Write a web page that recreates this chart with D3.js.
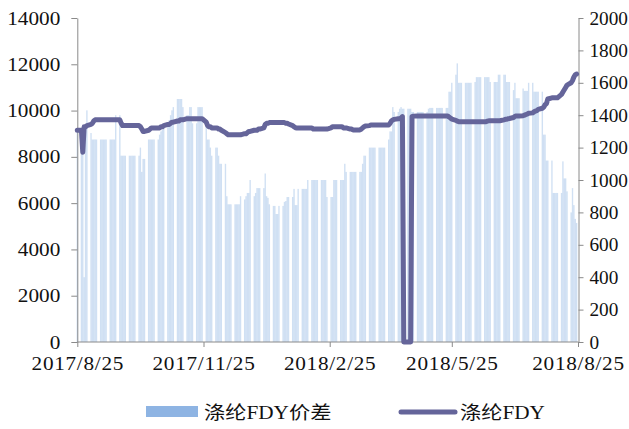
<!DOCTYPE html>
<html>
<head>
<meta charset="utf-8">
<script src="https://cdn.jsdelivr.net/npm/d3@7"></script>
<style>
  html, body { margin: 0; padding: 0; background: #fff; }
  svg { display: block; }
  text { font-family: "Liberation Serif", "Noto Sans CJK SC", serif; fill: #111; }
</style>
</head>
<body>
<svg id="chart" width="629" height="429"></svg>
<script>
// ---- data ---------------------------------------------------------------
const firstDay = "2017-08-25";
const lastDay = "2018-08-25";
const tickDays = ["2017-08-25", "2017-11-25", "2018-02-25", "2018-05-25", "2018-08-25"];
const tickLabels = ["2017/8/25", "2017/11/25", "2018/2/25", "2018/5/25", "2018/8/25"];
const leftTicks = [0, 2000, 4000, 6000, 8000, 10000, 12000, 14000];
const rightTicks = [0, 200, 400, 600, 800, 1000, 1200, 1400, 1600, 1800, 2000];
const seriesNames = ["涤纶FDY价差", "涤纶FDY"];

// spread (right axis), one row per trading week, Mon..Fri
const spreadRows = [
  [1310],                              // Aug 25
  [1310, 1310, 400, 1300, 1430],       // Aug 28
  [1290, 1250, 1250, 1250, 1250],      // Sep 4
  [1250, 1250, 1250, 1250, 1250],      // Sep 11
  [1250, 1250, 1250, 1250, 1400],      // Sep 18
  [1400, 1150, 1150, 1150, 1150],      // Sep 25
  [1150, 1150, 1150, 1150, 1150],      // Oct 2
  [1150, 1200, 1050, 1130, 1130],      // Oct 9
  [1250, 1250, 1250, 1250, 1250],      // Oct 16
  [1250, 1280, 1300, 1310, 1330],      // Oct 23
  [1350, 1370, 1400, 1430, 1450],      // Oct 30
  [1500, 1500, 1500, 1500, 1450],      // Nov 6
  [1400, 1400, 1450, 1450, 1350],      // Nov 13
  [1350, 1450, 1450, 1450, 1450],      // Nov 20
  [1350, 1250, 1250, 1200, 1150],      // Nov 27
  [1200, 1200, 1150, 1100, 1100],      // Dec 4
  [1100, 900, 850, 850, 850],          // Dec 11
  [850, 850, 850, 850, 900],           // Dec 18
  [880, 900, 920, 920, 1000],          // Dec 25
  [900, 920, 950, 950, 950],           // Jan 1
  [950, 1040, 900, 890, 850],          // Jan 8
  [840, 840, 790, 790, 840],           // Jan 15
  [840, 865, 870, 895, 895],           // Jan 22
  [895, 945, 845, 845, 945],           // Jan 29
  [945, 945, 945, 945, 1000],          // Feb 5
  [1000, 1000, 1000, 1000, 1000],      // Feb 12
  [1000, 1000, 1000, 1000, 895],       // Feb 19
  [895, 895, 1000, 1000, 1000],        // Feb 26
  [1000, 1000, 1000, 1100, 1050],      // Mar 5
  [1050, 1050, 1050, 1050, 1050],      // Mar 12
  [1050, 1050, 1100, 1150, 1150],      // Mar 19
  [1200, 1200, 1200, 1200, 1200],      // Mar 26
  [1200, 1200, 1200, 1200, 1200],      // Apr 2
  [1250, 1300, 1300, 1450, 1420],      // Apr 9
  [1420, 1440, 1450, 1440, 1440],      // Apr 16
  [1440, 1440, 1440, 1420, 1420],      // Apr 23
  [1420, 1420, 1420, 1420, 1420],      // Apr 30
  [1420, 1440, 1445, 1445, 1445],      // May 7
  [1445, 1445, 1445, 1445, 1445],      // May 14
  [1445, 1445, 1545, 1545, 1600],      // May 21
  [1650, 1720, 1600, 1600, 1600],      // May 28
  [1600, 1600, 1600, 1600, 1600],      // Jun 4
  [1605, 1635, 1635, 1635, 1635],      // Jun 11
  [1635, 1635, 1635, 1635, 1605],      // Jun 18
  [1605, 1605, 1605, 1650, 1650],      // Jun 25
  [1650, 1650, 1605, 1605, 1605],      // Jul 2
  [1555, 1600, 1505, 1505, 1505],      // Jul 9
  [1565, 1550, 1550, 1550, 1600],      // Jul 16
  [1600, 1545, 1545, 1545, 1545],      // Jul 23
  [1545, 1280, 1280, 1120, 1120],      // Jul 30
  [1120, 920, 920, 920, 920],          // Aug 6
  [920, 1115, 1010, 1010, 930],        // Aug 13
  [800, 950, 845, 760, 735]            // Aug 20
];

// FDY price (left axis), same trading days
const priceRows = [
  [9150],
  [9150, 8200, 9300, 9300, 9350],
  [9400, 9450, 9550, 9600, 9600],
  [9600, 9600, 9600, 9600, 9600],
  [9600, 9600, 9600, 9600, 9600],
  [9600, 9450, 9350, 9350, 9350],
  [9350, 9350, 9350, 9350, 9350],
  [9350, 9300, 9200, 9100, 9100],
  [9150, 9200, 9250, 9250, 9250],
  [9250, 9250, 9300, 9300, 9350],
  [9400, 9400, 9450, 9500, 9500],
  [9550, 9550, 9600, 9600, 9600],
  [9650, 9650, 9650, 9650, 9650],
  [9650, 9650, 9650, 9650, 9650],
  [9500, 9350, 9300, 9300, 9250],
  [9250, 9250, 9200, 9200, 9150],
  [9050, 9000, 8950, 8950, 8950],
  [8950, 8950, 8950, 8950, 8950],
  [9000, 9000, 9050, 9100, 9100],
  [9150, 9150, 9150, 9200, 9200],
  [9250, 9400, 9450, 9450, 9480],
  [9480, 9480, 9480, 9480, 9480],
  [9480, 9480, 9450, 9450, 9420],
  [9350, 9300, 9260, 9250, 9250],
  [9250, 9250, 9250, 9250, 9250],
  [9250, 9200, 9200, 9200, 9200],
  [9200, 9200, 9200, 9200, 9200],
  [9250, 9300, 9300, 9300, 9300],
  [9300, 9300, 9250, 9250, 9250],
  [9200, 9200, 9160, 9160, 9160],
  [9160, 9200, 9250, 9300, 9330],
  [9350, 9380, 9380, 9380, 9380],
  [9380, 9380, 9380, 9380, 9380],
  [9380, 9450, 9550, 9600, 9620],
  [9650, 9650, 9680, 9740, 0],
  [0, 0, 0, 9740, 9760],
  [9770, 9770, 9770, 9770, 9770],
  [9770, 9770, 9770, 9770, 9770],
  [9770, 9770, 9770, 9770, 9770],
  [9770, 9770, 9720, 9680, 9630],
  [9580, 9540, 9520, 9520, 9520],
  [9520, 9520, 9520, 9520, 9520],
  [9520, 9520, 9520, 9520, 9520],
  [9520, 9520, 9540, 9560, 9560],
  [9560, 9560, 9560, 9560, 9560],
  [9600, 9620, 9620, 9650, 9660],
  [9700, 9750, 9770, 9770, 9770],
  [9780, 9800, 9830, 9850, 9880],
  [9900, 9950, 9980, 10000, 10050],
  [10100, 10150, 10250, 10300, 10500],
  [10550, 10550, 10550, 10550, 10550],
  [10700, 10800, 10900, 11000, 11100],
  [11200, 11300, 11450, 11550, 11580]
];

// ---- layout -------------------------------------------------------------
const W = 629, H = 429;
const plot = { left: 77.3, right: 578, top: 18, bottom: 342 };
const SX = 1.18;            // horizontal stretch of the label face
const SXR = 1.07;           // right-hand labels, kept inside the frame
const axisColor = "#8a8a8a";
const barColor = "#8eb4e3";
const lineColor = "#65659a";

const parse = d3.utcParse("%Y-%m-%d");
const t0 = parse(firstDay), t1 = parse(lastDay);

// trading days (Mon-Fri) covered by the rows
const days = d3.utcDay.range(t0, t1).filter(d => d.getUTCDay() >= 1 && d.getUTCDay() <= 5);
const spread = spreadRows.flat();
const price = priceRows.flat();
const rows = days.map((d, i) => ({ date: d, spread: spread[i], price: price[i] }));

const x = d3.scaleUtc().domain([t0, t1]).range([plot.left, plot.right]);
const yL = d3.scaleLinear().domain([0, 14000]).range([plot.bottom, plot.top]);
const yR = d3.scaleLinear().domain([0, 2000]).range([plot.bottom, plot.top]);

const svg = d3.select("#chart");
const dayW = x(d3.utcDay.offset(t0, 1)) - x(t0);

// bars
svg.append("g")
  .selectAll("rect")
  .data(rows)
  .join("rect")
  .attr("x", d => x(d.date) - dayW / 2)
  .attr("width", dayW)
  .attr("y", d => yR(d.spread))
  .attr("height", d => yR(0) - yR(d.spread))
  .attr("fill", barColor)
  .attr("fill-opacity", 0.42);

function styleAxis(g) {
  g.selectAll("path.domain").attr("stroke", axisColor);
  g.selectAll(".tick line").attr("stroke", axisColor);
  g.selectAll("text").attr("font-size", 18).attr("font-family", null).attr("fill", "#111");
}

// left axis
const gL = svg.append("g")
  .attr("transform", `translate(${plot.left},0)`)
  .call(d3.axisLeft(yL).tickValues(leftTicks).tickSize(6).tickSizeOuter(0).tickFormat(d3.format("d")))
  .call(styleAxis);
gL.selectAll("text").attr("x", -17 / SX).attr("dy", "0.34em").attr("transform", `scale(${SX},1)`);

// right axis
const gR = svg.append("g")
  .attr("transform", `translate(${plot.right + 0.5},0)`)
  .call(d3.axisRight(yR).tickValues(rightTicks).tickSize(5).tickSizeOuter(0).tickFormat(d3.format("d")))
  .call(styleAxis);
gR.selectAll("text").attr("x", 11 / SXR).attr("dy", "0.34em").attr("transform", `scale(${SXR},1)`);

// bottom axis
const gB = svg.append("g")
  .attr("transform", `translate(0,${plot.bottom})`)
  .call(d3.axisBottom(x).tickValues(tickDays.map(parse)).tickSize(5).tickSizeOuter(0)
    .tickFormat((d, i) => tickLabels[i]))
  .call(styleAxis);
gB.select("path.domain").attr("d", `M${plot.left},0H${plot.right + 0.5}`);
gB.selectAll("text").attr("y", 28).attr("dy", 0).attr("transform", `scale(${SX},1)`)
  .attr("letter-spacing", 0.6);

// price line
svg.append("path")
  .datum(rows)
  .attr("fill", "none")
  .attr("stroke", lineColor)
  .attr("stroke-width", 5)
  .attr("stroke-linejoin", "round")
  .attr("stroke-linecap", "round")
  .attr("d", d3.line().x(d => x(d.date)).y(d => yL(d.price)));

// legend
const lg = svg.append("g");
lg.append("rect").attr("x", 146).attr("y", 406).attr("width", 52).attr("height", 11).attr("fill", barColor);
lg.append("text").attr("transform", `translate(204,419) scale(${SX},1)`).attr("font-size", 18).text(seriesNames[0]);
lg.append("line").attr("x1", 401).attr("x2", 455).attr("y1", 412).attr("y2", 412)
  .attr("stroke", lineColor).attr("stroke-width", 5).attr("stroke-linecap", "round");
lg.append("text").attr("transform", `translate(460,419) scale(${SX},1)`).attr("font-size", 18).text(seriesNames[1]);
</script>
</body>
</html>
